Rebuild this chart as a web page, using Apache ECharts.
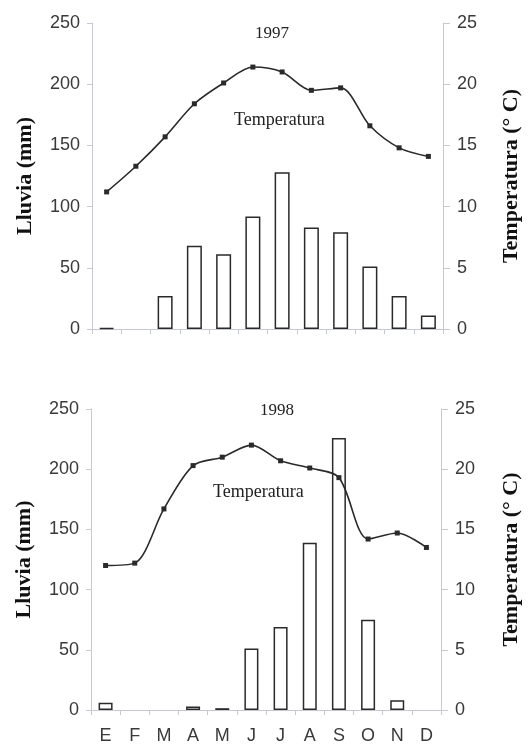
<!DOCTYPE html>
<html>
<head>
<meta charset="utf-8">
<script src="https://cdn.jsdelivr.net/npm/echarts@6/dist/echarts.min.js"></script>
<style>
  html, body { margin: 0; padding: 0; background: #fff; }
  #chart { width: 530px; height: 745px; }
</style>
</head>
<body>
<div id="chart"></div>
<script>
const months = ['E', 'F', 'M', 'A', 'M', 'J', 'J', 'A', 'S', 'O', 'N', 'D']

// 1997
const rain1997 = [1, 0, 27, 68, 61, 92, 128, 83, 79, 51, 27, 11]
const temp1997 = [11.2, 13.3, 15.7, 18.4, 20.1, 21.4, 21.0, 19.5, 19.7, 16.6, 14.8, 14.1]

// 1998
const rain1998 = [6, 0, 0, 3, 1.5, 51, 69, 139, 226, 75, 8, 0]
const temp1998 = [12.0, 12.2, 16.7, 20.3, 21.0, 22.0, 20.7, 20.1, 19.3, 14.2, 14.7, 13.5]

const rainTicks = [0, 50, 100, 150, 200, 250]
const tempTicks = [0, 5, 10, 15, 20, 25]

const AXIS_GRAY = '#c6c9d3'
const TEXT_GRAY = '#3a3a3a'
const INK = '#2a2a2a'
const SERIF = '"Liberation Serif", "DejaVu Serif", serif'
const SANS = '"Liberation Sans", Arial, sans-serif'

function rainAxis(gridIndex) {
  return {
    type: 'value',
    gridIndex,
    min: rainTicks[0],
    max: rainTicks[rainTicks.length - 1],
    interval: 50,
    position: 'left',
    name: 'Lluvia (mm)',
    nameLocation: 'middle',
    nameGap: 56,
    nameTextStyle: { fontFamily: SERIF, fontWeight: 'bold', fontSize: 22, color: '#111' },
    axisLine: { show: true, lineStyle: { color: AXIS_GRAY, width: 1 } },
    axisTick: { show: true, length: 5, lineStyle: { color: AXIS_GRAY } },
    axisLabel: { fontFamily: SANS, fontSize: 18, color: TEXT_GRAY, margin: 12 },
    splitLine: { show: false }
  }
}

function tempAxis(gridIndex, gap) {
  return {
    type: 'value',
    gridIndex,
    min: tempTicks[0],
    max: tempTicks[tempTicks.length - 1],
    interval: 5,
    position: 'right',
    name: 'Temperatura (° C)',
    nameLocation: 'middle',
    nameGap: gap,
    nameTextStyle: { fontFamily: SERIF, fontWeight: 'bold', fontSize: 22, color: '#111' },
    axisLine: { show: true, lineStyle: { color: AXIS_GRAY, width: 1 } },
    axisTick: { show: true, length: 7, inside: false, lineStyle: { color: AXIS_GRAY } },
    axisLabel: { fontFamily: SANS, fontSize: 18, color: TEXT_GRAY, margin: 14 },
    splitLine: { show: false }
  }
}

function monthAxis(gridIndex, showLabels) {
  return {
    type: 'category',
    gridIndex,
    data: months,
    boundaryGap: true,
    axisLine: { show: true, lineStyle: { color: AXIS_GRAY, width: 1 } },
    axisTick: { show: true, length: 5, lineStyle: { color: AXIS_GRAY } },
    axisLabel: { show: showLabels, fontFamily: SANS, fontSize: 18, color: TEXT_GRAY, margin: 17 },
    splitLine: { show: false }
  }
}

function barSeries(idx, data, width) {
  return {
    type: 'bar',
    xAxisIndex: idx,
    yAxisIndex: idx * 2,
    // months with no rain have no bar at all in the original
    data: data.map(v => (v === 0 ? '-' : v)),
    barWidth: width,
    itemStyle: { color: '#fff', borderColor: INK, borderWidth: 1.5 },
    silent: true
  }
}

function tempSeries(idx, data) {
  return {
    type: 'line',
    xAxisIndex: idx,
    yAxisIndex: idx * 2 + 1,
    data,
    smooth: 0.3,
    symbol: 'rect',
    symbolSize: 5,
    lineStyle: { color: INK, width: 1.6 },
    itemStyle: { color: INK },
    z: 5
  }
}

const chart = echarts.init(document.getElementById('chart'), null, { renderer: 'canvas' })

chart.setOption({
  backgroundColor: '#fff',
  animation: false,
  title: [
    { text: '1997', left: 250, top: 20, textStyle: { fontFamily: SERIF, fontWeight: 'normal', fontSize: 17, color: '#222' } },
    { text: '1998', left: 255, top: 397, textStyle: { fontFamily: SERIF, fontWeight: 'normal', fontSize: 17, color: '#222' } }
  ],
  grid: [
    { left: 92, right: 530 - 453, top: 23, height: 306 },
    { left: 91, right: 530 - 447, top: 409, height: 302 }
  ],
  xAxis: [monthAxis(0, false), monthAxis(1, true)],
  yAxis: [rainAxis(0), tempAxis(0, 57), rainAxis(1), tempAxis(1, 59)],
  series: [
    barSeries(0, rain1997, 15),
    tempSeries(0, temp1997),
    barSeries(1, rain1998, 14),
    tempSeries(1, temp1998)
  ],
  graphic: [
    { type: 'text', left: 234, top: 111, style: { text: 'Temperatura', font: '18px ' + SERIF, fill: '#222' } },
    { type: 'text', left: 213, top: 483, style: { text: 'Temperatura', font: '18px ' + SERIF, fill: '#222' } }
  ]
})
</script>
</body>
</html>
